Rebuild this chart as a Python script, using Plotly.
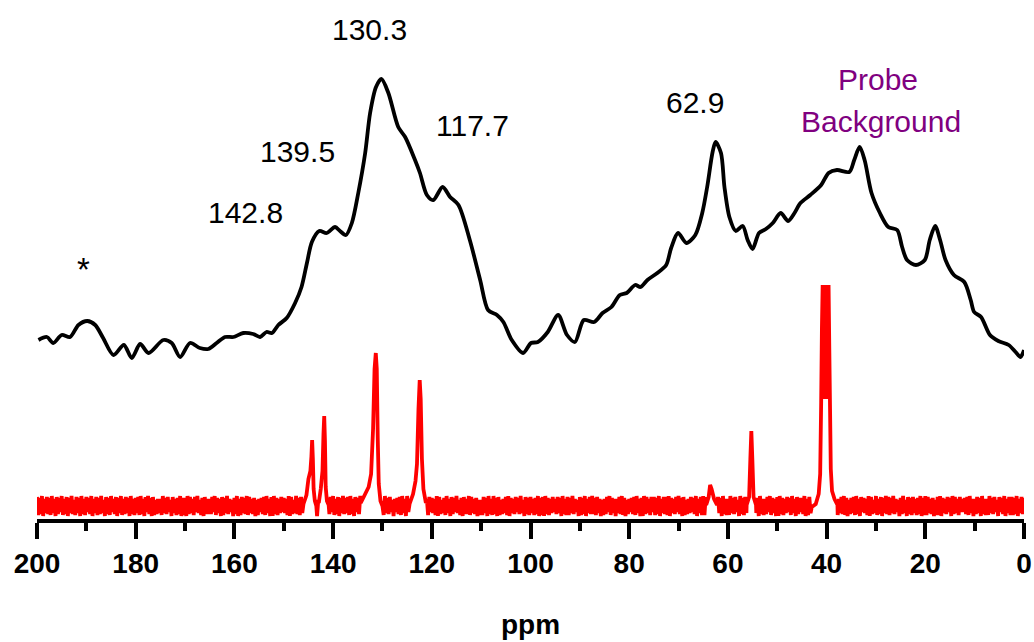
import numpy as np
import plotly.graph_objects as go

# ---------------- data ----------------
# Broad (black) spectrum: chemical shift (ppm) and intensity (arbitrary units)
black_ppm = [199.7, 198.0, 196.7, 195.0, 193.3, 191.6, 189.8, 188.2, 186.6, 184.5,
             182.4, 180.8, 179.1, 177.4, 174.4, 172.7, 171.0, 169.0, 167.0, 165.3,
             163.6, 161.9, 160.2, 158.2, 156.2, 154.8, 153.5, 152.4, 151.1, 149.4,
             147.7, 146.4, 145.3, 144.3, 142.8, 141.3, 139.6, 138.6, 137.4, 136.2,
             134.9, 133.5, 132.5, 131.3, 130.2, 128.8, 126.8, 125.4, 123.4, 122.4,
             121.0, 119.7, 117.8, 116.3, 114.6, 112.3, 110.2, 108.6, 106.8, 105.5,
             103.8, 101.5, 99.9, 98.5, 96.5, 94.4, 92.6, 91.0, 89.2, 87.1,
             85.4, 83.6, 81.9, 80.5, 78.8, 77.7, 76.3, 74.3, 72.5, 71.5,
             70.1, 68.4, 66.6, 65.2, 64.2, 63.1, 62.5, 61.4, 60.7, 59.7,
             58.4, 57.0, 56.0, 55.0, 53.7, 52.3, 50.9, 49.3, 47.8, 46.5,
             45.3, 43.3, 41.1, 39.6, 37.9, 35.4, 34.4, 33.3, 32.3, 30.9,
             29.2, 27.5, 25.7, 24.7, 23.7, 21.9, 20.1, 19.1, 18.0, 17.0,
             15.9, 14.2, 12.1, 10.8, 10.1, 8.7, 6.9, 5.2, 3.1, 1.7,
             0.7, 0.0]
black_int = [179, 182, 176, 184, 182, 194, 198, 194, 181, 164,
             174, 161, 175, 166, 179, 176, 162, 176, 171, 170,
             176, 182, 182, 186, 185, 182, 187, 186, 194, 201,
             216, 232, 256, 277, 288, 286, 292, 288, 284, 296,
             326, 366, 406, 432, 440, 426, 392, 382, 359, 346,
             324, 319, 332, 322, 314, 279, 239, 209, 204, 197,
             179, 166, 176, 177, 187, 204, 184, 177, 199, 197,
             206, 212, 224, 226, 234, 232, 239, 246, 254, 271,
             286, 276, 284, 306, 332, 367, 377, 366, 332, 302,
             288, 293, 279, 270, 286, 290, 296, 306, 298, 306,
             316, 324, 334, 346, 349, 347, 359, 372, 359, 326,
             306, 292, 289, 272, 259, 254, 259, 279, 293, 279,
             259, 244, 237, 219, 207, 202, 184, 178, 174, 167,
             162, 169]

# Sharp (red) spectrum: baseline noise codes (0-9), 0.25 ppm apart from 200 to 0 ppm
noise_codes = (
    "81729063827193608274916280739251837092618472906381729350827194628073916283709261"
    "73819260849270815263619372845083617290717092836184935170826262849173608173926450"
    "72906183729183627051647281936080927163847361908253927183605163829170528190736284"
    "91628073927381926084729061837284729063816193728450647281936094628073917092836184"
    "73619082537193608274935170826291836270515183709261927081526381907362847293508271"
    "83617290718092716384628370926181739264508172906382927183605162849173606382917052"
    "64728193607092836184817290638281907362849270815263847290638191836270516283709261"
    "61937284509271836051518370926162849173608092716384719360827472906183729351708262"
    "94628073916382917052738192608473619082539162807392817392645072935082718361729071"
    "91836270518190736284709283618464728193606283709261619372845084729063818172906382"
    "7"
)
# intensity of each noise code
code_int = [3, 4, 5, 6, 7, 19, 20, 21, 22, 23]

# Sharp peaks: (ppm, intensity) outlines
peak_144_ppm = [146.0, 145.4, 145.0, 144.6, 144.4, 144.25, 144.1, 143.95, 143.7, 143.4]
peak_144_int = [15, 24, 40, 48, 62, 79, 60, 30, 18, 13]
peak_141_ppm = [142.9, 142.5, 142.15, 141.95, 141.8, 141.65, 141.5, 141.25, 140.9]
peak_141_int = [16, 30, 48, 85, 103, 78, 32, 18, 14]
peak_131_ppm = [134.4, 133.6, 132.8, 132.3, 131.9, 131.6, 131.35, 131.15, 130.95, 130.75, 130.4, 130.0]
peak_131_int = [16, 24, 32, 45, 90, 150, 166, 150, 80, 35, 18, 13]
peak_122_ppm = [124.5, 123.8, 123.3, 123.0, 122.7, 122.45, 122.25, 122.0, 121.7, 121.2]
peak_122_int = [15, 25, 38, 55, 110, 139, 120, 60, 30, 16]
peak_63_ppm = [64.4, 63.9, 63.6, 63.3, 62.8, 62.2]
peak_63_int = [14, 22, 34, 30, 20, 14]
peak_55_ppm = [56.2, 55.7, 55.45, 55.25, 55.05, 54.8, 54.3]
peak_55_int = [14, 22, 60, 88, 60, 22, 14]
peak_40_ppm = [43.0, 42.2, 41.6, 41.3, 41.1, 40.95, 40.8, 40.65, 40.5, 40.35, 40.2,
               40.05, 39.9, 39.75, 39.6, 39.45, 39.3, 39.15, 38.9, 38.4, 37.8]
peak_40_int = [12, 15, 25, 45, 117, 190, 234, 125, 232, 120, 234,
               125, 233, 120, 234, 170, 110, 50, 28, 20, 14]

# Peak labels (text, ppm, intensity)
label_text = ["130.3", "139.5", "117.7", "142.8", "62.9"]
label_ppm = [132.6, 147.2, 111.7, 157.7, 66.7]
label_int = [490, 368, 394, 307, 417]

# ---------------- build the red trace ----------------
noise_ppm = np.linspace(200, 0, len(noise_codes))
noise_int = np.array([code_int[int(c)] for c in noise_codes], dtype=float)

peaks = [(peak_144_ppm, peak_144_int), (peak_141_ppm, peak_141_int),
         (peak_131_ppm, peak_131_int), (peak_122_ppm, peak_122_int),
         (peak_63_ppm, peak_63_int), (peak_55_ppm, peak_55_int),
         (peak_40_ppm, peak_40_int)]

keep = np.ones(len(noise_ppm), dtype=bool)
for pp, _ in peaks:
    keep &= ~((noise_ppm <= max(pp)) & (noise_ppm >= min(pp)))

red_x = list(noise_ppm[keep])
red_y = list(noise_int[keep])
for pp, pi in peaks:
    red_x += list(pp)
    red_y += list(pi)
order = np.argsort(red_x)[::-1]
red_x = np.array(red_x)[order]
red_y = np.array(red_y)[order]

# ---------------- figure ----------------
fig = go.Figure()
fig.add_trace(go.Scatter(x=red_x, y=red_y, mode="lines",
                         line=dict(color="#ff0000", width=3.8, simplify=False),
                         hoverinfo="skip"))
fig.add_trace(go.Scatter(x=black_ppm, y=black_int, mode="lines",
                         line=dict(color="black", width=3.8, shape="spline", smoothing=0.8),
                         hoverinfo="skip"))

FONT = "Liberation Sans, Arial, sans-serif"
for t, xp, yp in zip(label_text, label_ppm, label_int):
    fig.add_annotation(x=xp, y=yp, text=t, showarrow=False, xref="x", yref="y",
                       font=dict(family=FONT, size=30, color="black"))
fig.add_annotation(x=190.5, y=250, text="*", showarrow=False, xref="x", yref="y",
                   font=dict(family=FONT, size=33, color="black"))
fig.add_annotation(x=29.5, y=440, text="Probe", showarrow=False, xref="x", yref="y",
                   font=dict(family=FONT, size=30, color="#800080"))
fig.add_annotation(x=29.0, y=398, text="Background", showarrow=False, xref="x", yref="y",
                   font=dict(family=FONT, size=30, color="#800080"))

fig.update_layout(
    width=1034, height=642,
    margin=dict(l=37, r=10, t=0, b=123),
    paper_bgcolor="white", plot_bgcolor="white",
    showlegend=False,
    xaxis=dict(
        range=[200, 0],
        tickmode="array", tickvals=[0, 20, 40, 60, 80, 100, 120, 140, 160, 180, 200],
        ticks="outside", ticklen=16, tickwidth=4, tickcolor="black",
        showline=True, linewidth=4, linecolor="black",
        showgrid=False, zeroline=False,
        minor=dict(tickvals=[10, 30, 50, 70, 90, 110, 130, 150, 170, 190],
                   ticks="outside", ticklen=8, tickwidth=4, tickcolor="black", showgrid=False),
        tickfont=dict(family=FONT, size=28, color="black", weight="bold"),
        title=dict(text="ppm", font=dict(family=FONT, size=28, color="black", weight="bold"),
                   standoff=38),
    ),
    yaxis=dict(range=[0, 519], visible=False, showgrid=False, zeroline=False),
)

fig.write_html("out.html")
